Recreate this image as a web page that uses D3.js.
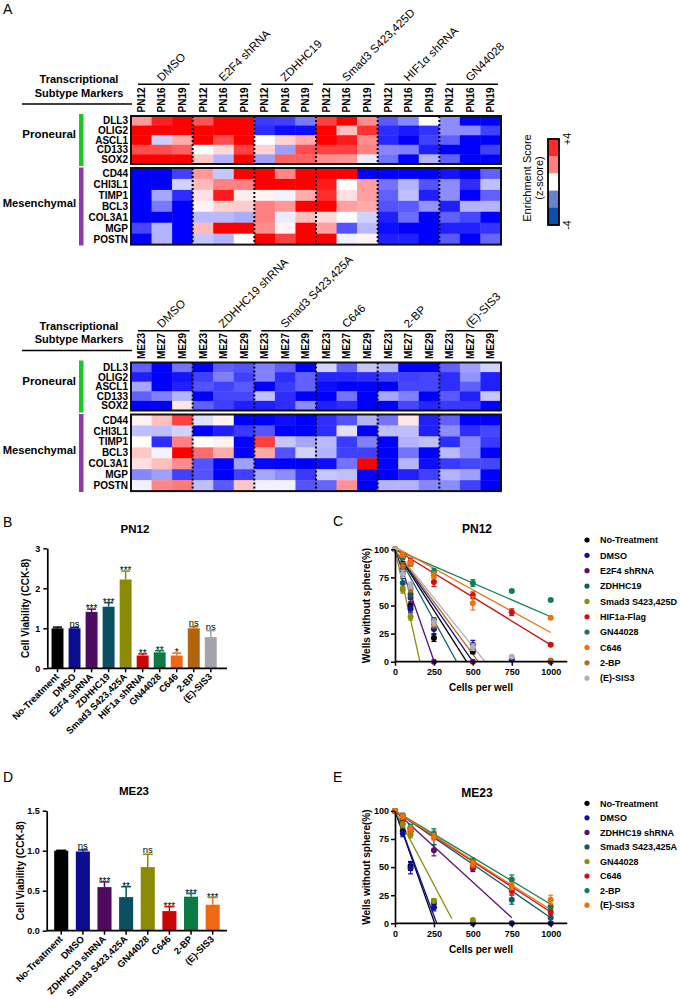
<!DOCTYPE html>
<html><head><meta charset="utf-8">
<script src="https://cdn.jsdelivr.net/npm/d3@7"></script>
<style>
body{margin:0;background:#fff}
svg{display:block}
text{font-family:"Liberation Sans",Arial,Helvetica,sans-serif;fill:#000}
</style>
</head><body>
<svg id="fig" width="680" height="999"></svg>
<script>
// ---------------- DATA ----------------
const proneuralMarkers = ["DLL3","OLIG2","ASCL1","CD133","SOX2"];
const mesenchymalMarkers = ["CD44","CHI3L1","TIMP1","BCL3","COL3A1","MGP","POSTN"];
const groupsTop = ["DMSO","E2F4 shRNA","ZDHHC19","Smad3 S423,425D","HIF1α shRNA","GN44028"];
const samplesTop = ["PN12","PN16","PN19"];
const groupsBottom = ["DMSO","ZDHHC19 shRNA","Smad3 S423,425A","C646","2-BP","(E)-SIS3"];
const samplesBottom = ["ME23","ME27","ME29"];

// z-scores (rows = markers, 18 columns = 6 groups x 3 samples)
const zTopPro = [
 [1.6,3.5,4, 2.7,4,4, -3.1,-3,-2.1, 3,4,1.8, -2.6,-1.9,0, -1.8,-4,-4],
 [4,4,4, 4,4,4, -3.3,-3.8,-3.8, 4,1,3.2, -3.3,-3.6,-3.2, -1.8,-1.8,-3],
 [4,-0.8,1.3, 4,2.8,4, 0,0.7,1.3, 4,3.6,1.8, -3.4,-4,-3, -2.5,-4,-4],
 [2.8,2.8,2.5, 0,0.6,3, 0.7,-1.5,2.8, 3,3,2, -1.9,-2,-3.5, -4,-4,-3],
 [4,4,4, 0.9,-1.2,4, -1.5,2.5,2.5, 1.8,1.7,-0.3, -2.2,-4,-1.2, -2.5,-4,-4]
];
const zTopMes = [
 [-4,-4,-3, 1.6,-0.9,4, 4,1.9,4, 4,4,-4, -4,-4,-4, -3.7,-4,-2.5],
 [-4,-4,-0.7, 1.1,2,2, 4,4,4, 3.6,0,1.5, -2.2,-1.2,-2.7, -1.8,-3.3,-1],
 [-4,-1.4,-3.3, 0.5,3.6,0.3, 0.2,-0.2,1.3, 3.3,0.5,1.5, -2.5,-1,-3.5, -1.8,-4,-2.5],
 [-4,-2.1,-4, 0.2,0.7,0.8, 2,1.6,4, 4,1.5,1.3, -2.7,-2.6,-1.7, -3.5,-1.2,-1.2],
 [-4,-4,-4, -1.1,-1.1,-1.3, 2,-0.3,1, 0.6,0,-0.7, -3.5,-2.3,-4, -2.5,-2.9,-4],
 [-2.9,-1.2,-4, 1.1,4,4, 1.8,0.2,4, 1.5,-2.7,-1.1, -3.8,-4,-4, -3.5,-3.5,-3.2],
 [-4,-1.2,-4, -0.9,-1.2,0, 4,3,4, 4,-0.2,0.2, -3.5,-3.5,-4, -2.6,-4,-2.4]
];
const zBotPro = [
 [-2.5,-4,-2.2, -4,-2.5,-2.7, -2,-2.5,-4, -0.7,-2.5,-0.9, -1.2,-4,-4, -2.5,-1.5,-0.7],
 [-3.5,-4,-3.7, -3,-2,-3, -2,-3.3,-2.5, -3.4,-3.4,-3.3, -3,-3,-2.9, -3.3,-1.7,-3.5],
 [-1.4,-4,-3.5, -2.7,-3,-2.6, -4,-3.1,-2.5, -3.8,-4,-4, -4,-2.9,-2.9, -3.3,-2.5,-3.5],
 [-2.5,-2,-1.2, -4,-2.9,-2.9, -1,-3.3,-4, -4,-2.2,-4, -1.4,-2,-4, -2.6,-3.5,-0.9],
 [-4,-4,0.4, -2.5,-3,-3.5, -3.5,-3.3,-1.8, -3.5,-3.3,-4, -4,-2.9,-3.4, -3.1,-3.1,-4]
];
const zBotMes = [
 [0.2,1,3, -0.5,0.2,-4, -4,-3.8,-4, -3.3,-2.7,-1.2, -2.2,0.4,-3.5, -2.5,-4,-4],
 [-1,-1,-0.7, -4,-3.5,-3.1, -2.7,-4,-4, -3.3,-0.5,-4, -1,-1,-3.5, -1.8,-3.3,-2.9],
 [0,-3.3,2, 0,0.2,-4, 3,-0.9,-1.4, -1.1,-3.1,-2, -4,-1.2,-1, -3.3,-1.9,-3.1],
 [0.9,-0.2,4, 2.3,1.3,-4, 1.4,-2.7,-0.7, -1.2,-3,-3, -4,-2.2,-4, -1.1,-1.9,-4],
 [0.5,1,1.8, -2.7,-4,-1.5, -3.9,-4,-4, -3.8,-2.2,4, -4,-1.2,-3.8, -3.1,-2.9,-2.9],
 [-1.9,-1.5,-3, -2.7,-4,-3, -1.4,-1.8,-3.1, -0.9,-1,-4, -4,-3.5,-3, -1.2,-1.5,-4],
 [-0.2,1.9,2.1, -1,-2.6,0.9, -0.2,-0.2,-2.7, -2.4,1.7,-4, -1.2,-1.2,-1.9, -1.8,-3,-4]
];
const legendBandColors = ["#ff2a2a","#ff8080","#ffffff","#6a80c8","#0a50b0"];
const legendTickLabels = ["+4","-4"];

// Panel B
const catsB = ["No-Treatment","DMSO","E2F4 shRNA","ZDHHC19","Smad3 S423,425A","HIF1a shRNA","GN44028","C646","2-BP","(E)-SIS3"];
const valsB = [1.0,1.0,1.41,1.54,2.22,0.32,0.40,0.32,1.0,0.78];
const errsB = [0.03,0.02,0.07,0.1,0.21,0.04,0.04,0.06,0.04,0.16];
const sigB = ["","ns","***","***","***","**","**","*","ns","ns"];
const colorsB = ["#000000","#0c0c8e","#4e0a5e","#0a4f62","#8a8a05","#cc0606","#0d7a45","#ee6a12","#b0640e","#a3a3aa"];
const yTicksB = [0,1,2,3];

// Panel D
const catsD = ["No-Treatment","DMSO","ZDHHC19 shRNA","Smad3 S423,425A","GN44028","C646","2-BP","(E)-SIS3"];
const valsD = [1.0,0.99,0.545,0.42,0.795,0.245,0.425,0.325];
const errsD = [0.005,0.02,0.065,0.13,0.16,0.055,0.04,0.09];
const sigD = ["","ns","***","**","ns","***","***","***"];
const colorsD = ["#000000","#0c0c8e","#4e0a5e","#0a4f62","#8a8a05","#cc0606","#0d7a45","#ee6a12"];
const yTicksD = [0,0.5,1.0,1.5];

// Panels C & E (limiting dilution)
const cellsPerWell = [0,50,100,250,500,750,1000];
const xTicksLD = [0,250,500,750,1000];
const yTicksLD = [0,25,50,75,100];

const seriesC = ["No-Treatment","DMSO","E2F4 shRNA","ZDHHC19","Smad3 S423,425D","HIF1a-Flag","GN44028","C646","2-BP","(E)-SIS3"];
const colorsC = ["#000000","#10109a","#5a1070","#0d5c6b","#8c8c10","#d01010","#108050","#f07010","#b86a1a","#b0b0b8"];
const valuesC = [
 [100,86,50,21,9,null,null],
 [100,83,47,29,15,2,0],
 [100,80,57,0,0,null,null],
 [100,70,60,37,null,null,null],
 [100,64,40,null,null,null,null],
 [100,95,89,71,59,44,15],
 [100,93,87,80,70,63,55],
 [100,95,88,77,52,null,39],
 [100,85,65,33,12,null,1],
 [100,78,68,35,13,4.5,null]
];
const errorsC = [
 [0,3,3,3,2,0,0],
 [0,3,3,4,4,1,0],
 [0,4,4,0,0,0,0],
 [0,4,3,2,0,0,0],
 [0,3,3,0,0,0,0],
 [0,2,3,4,3,3,1],
 [0,2,2,3,3,1,1],
 [0,2,3,3,6,0,1],
 [0,3,3,3,2,0,0],
 [0,3,3,3,3,1,0]
];
const fitStartC = [100,100,100,100,100,100,100,102,100,100];
const fitEndXC = [460,500,252,396,160,1000,1000,1000,535,578];
const fitEndYC = [0,0,0,0,0,15,40,26,0,0];

const seriesE = ["No-Treatment","DMSO","ZDHHC19 shRNA","Smad3 S423,425A","GN44028","C646","2-BP","(E)-SIS3"];
const colorsE = ["#000000","#10109a","#5a1070","#0d5c6b","#8c8c10","#d01010","#108050","#f07010"];
const valuesE = [
 [100,82,51,18,null,null,null],
 [100,80,49,14,0,0,0],
 [100,92,82,65,49,null,null],
 [100,95,85,77,52,21,5],
 [100,88,79,20,3,null,null],
 [100,94,84,78,51,29,10],
 [100,95,85,79,55,39,15],
 [100,95,84,77,53,33,21]
];
const errorsE = [
 [0,3,4,3,0,0,0],
 [0,3,5,3,0,0,0],
 [0,3,3,5,3,0,0],
 [0,3,3,7,4,4,1],
 [0,3,3,2,1,0,0],
 [0,2,3,3,3,3,2],
 [0,2,3,3,3,4,2],
 [0,2,3,3,3,3,4]
];
const fitStartE = [100,100,100,100,100,100,100,100];
const fitEndXE = [255,268,750,1000,365,1000,1000,1000];
const fitEndYE = [0,0,5,5,4,10,17,12];

// ---------------- DRAW ----------------
const svg = d3.select("#fig");
const FONT = '"Liberation Sans",Arial,sans-serif';
const zColor = d3.scaleLinear().domain([-4,0,4]).range(["#0000ff","#ffffff","#ff0000"]).clamp(true);

function rtext(parent, x, y, angle, str){
  return parent.append("text").attr("x",0).attr("y",0)
    .attr("transform",`translate(${x},${y}) rotate(${angle})`).text(str);
}

function panelLetter(t, x, y){
  svg.append("text").attr("x",x).attr("y",y).attr("font-size",14).text(t);
}
panelLetter("A",3,14);
panelLetter("B",3,527);
panelLetter("C",333,526);
panelLetter("D",3,782);
panelLetter("E",333,782);

function heatmap(dy, groups, samples, zPro, zMes){
  const g = svg.append("g");
  const nCols = groups.length*samples.length;
  const x = d3.scaleBand().domain(d3.range(nCols)).range([131,501]);
  const gx = d3.scaleBand().domain(groups).range([131,501]);
  const yP = d3.scaleBand().domain(proneuralMarkers).range([116+dy,164+dy]);
  const yM = d3.scaleBand().domain(mesenchymalMarkers).range([168+dy,244.6+dy]);

  g.append("text").attr("x",79).attr("y",83+dy).attr("text-anchor","middle").attr("font-weight","bold").attr("font-size",11).text("Transcriptional");
  g.append("text").attr("x",79).attr("y",96.7+dy).attr("text-anchor","middle").attr("font-weight","bold").attr("font-size",11).text("Subtype Markers");
  g.append("line").attr("x1",22).attr("x2",132).attr("y1",104+dy).attr("y2",104+dy).attr("stroke","#000").attr("stroke-width",1.6);

  groups.forEach(gr=>{
    const x0 = gx(gr), w = gx.bandwidth();
    g.append("line").attr("x1",x0+7).attr("x2",x0+w-3).attr("y1",84.3+dy).attr("y2",84.3+dy).attr("stroke","#000").attr("stroke-width",1.6);
    rtext(g, x0+w/2, 82+dy, -45, gr).attr("font-size",11.5);
    samples.forEach((s,i)=>{
      const cx = x0 + w*(i+0.5)/samples.length;
      rtext(g, cx+3.6, 112.5+dy, -90, s).attr("text-anchor","start").attr("font-weight","bold").attr("font-size",10);
    });
  });

  [[zPro,yP,proneuralMarkers],[zMes,yM,mesenchymalMarkers]].forEach(([z,y,rows])=>{
    rows.forEach((r,i)=>{
      g.selectAll(null).data(z[i]).join("rect")
        .attr("x",(d,j)=>x(j)).attr("y",y(r))
        .attr("width",x.bandwidth()+0.4).attr("height",y.bandwidth()+0.4)
        .attr("fill",d=>zColor(d));
      g.append("text").attr("x",128).attr("y",y(r)+y.bandwidth()/2+3.6)
        .attr("text-anchor","end").attr("font-weight","bold").attr("font-size",10).text(r);
    });
    const [ya,yb] = y.range();
    for(let k=1;k<groups.length;k++){
      const xx = x(k*samples.length);
      g.append("line").attr("x1",xx).attr("x2",xx).attr("y1",ya).attr("y2",yb)
        .attr("stroke","#000").attr("stroke-width",2).attr("stroke-dasharray","2,2");
    }
    g.append("rect").attr("x",131).attr("y",ya).attr("width",370).attr("height",yb-ya)
      .attr("fill","none").attr("stroke","#111").attr("stroke-width",2);
  });
  g.append("rect").attr("x",79).attr("y",114+dy).attr("width",4.5).attr("height",52).attr("fill","#1fc62a");
  g.append("rect").attr("x",79).attr("y",167.5+dy).attr("width",4.5).attr("height",78).attr("fill","#8c3ca4");
  g.append("text").attr("x",76).attr("y",138+dy).attr("text-anchor","end").attr("font-weight","bold").attr("font-size",11.5).text("Proneural");
  g.append("text").attr("x",76).attr("y",207+dy).attr("text-anchor","end").attr("font-weight","bold").attr("font-size",11.2).text("Mesenchymal");
}
heatmap(0, groupsTop, samplesTop, zTopPro, zTopMes);
heatmap(246.5, groupsBottom, samplesBottom, zBotPro, zBotMes);

// colour legend
(function(){
  const g = svg.append("g");
  const ly = d3.scaleBand().domain(d3.range(legendBandColors.length)).range([139,225]);
  g.selectAll(null).data(legendBandColors).join("rect")
    .attr("x",548).attr("y",(d,i)=>ly(i)).attr("width",11).attr("height",ly.bandwidth()+0.3).attr("fill",d=>d);
  g.append("rect").attr("x",548).attr("y",139).attr("width",11).attr("height",86).attr("fill","none").attr("stroke","#000").attr("stroke-width",1.8);
  rtext(g,531,178,-90,"Enrichment Score").attr("text-anchor","middle").attr("font-size",11);
  rtext(g,543,178,-90,"(z-score)").attr("text-anchor","middle").attr("font-size",11);
  rtext(g,571,139,-90,legendTickLabels[0]).attr("text-anchor","middle").attr("font-size",10.5);
  rtext(g,571,225,-90,legendTickLabels[1]).attr("text-anchor","middle").attr("font-size",10.5);
})();

function styleAxis(sel){
  sel.selectAll("path.domain").attr("stroke","#000").attr("stroke-width",1.7);
  sel.selectAll(".tick line").attr("stroke","#000").attr("stroke-width",1.5);
  sel.selectAll(".tick text").attr("font-family",FONT).attr("font-weight","bold").attr("font-size",9).attr("fill","#000");
}

function barChart(o){
  const g = svg.append("g");
  const x = d3.scaleBand().domain(o.cats).range(o.xr).paddingInner(o.pad).paddingOuter(o.pad/2);
  const y = d3.scaleLinear().domain([0,o.yMax]).range(o.yr);
  g.selectAll(null).data(o.vals).join("rect")
    .attr("x",(d,i)=>x(o.cats[i])).attr("width",x.bandwidth())
    .attr("y",d=>y(d)).attr("height",d=>y(0)-y(d)).attr("fill",(d,i)=>o.colors[i]);
  o.vals.forEach((v,i)=>{
    const cx = x(o.cats[i])+x.bandwidth()/2, top = y(v+o.errs[i]);
    g.append("line").attr("x1",cx).attr("x2",cx).attr("y1",y(v)).attr("y2",top).attr("stroke",o.colors[i]).attr("stroke-width",1.5);
    g.append("line").attr("x1",cx-o.cap).attr("x2",cx+o.cap).attr("y1",top).attr("y2",top).attr("stroke",o.colors[i]).attr("stroke-width",1.5);
    if(o.sig[i]) g.append("text").attr("x",cx).attr("y",top+(o.sig[i][0]==="*"?3:-1)).attr("text-anchor","middle")
      .attr("font-size",o.sig[i][0]==="*"?10:9.5).attr("fill","#333").text(o.sig[i]);
  });
  const ya = g.append("g").attr("transform",`translate(${o.axisX},0)`)
    .call(d3.axisLeft(y).tickValues(o.yTicks).tickSize(4).tickSizeOuter(0).tickPadding(3).tickFormat(o.fmt));
  styleAxis(ya);
  g.append("line").attr("x1",o.axisX).attr("x2",o.axisEnd).attr("y1",y(0)).attr("y2",y(0)).attr("stroke","#000").attr("stroke-width",1.8);
  o.cats.forEach(c=>{
    const cx = x(c)+x.bandwidth()/2;
    g.append("line").attr("x1",cx).attr("x2",cx).attr("y1",y(0)).attr("y2",y(0)+4).attr("stroke","#000").attr("stroke-width",1.5);
    rtext(g, cx+2, y(0)+9, -45, c).attr("text-anchor","end").attr("font-weight","bold").attr("font-size",9.5);
  });
  g.append("text").attr("x",o.titleX).attr("y",o.titleY).attr("text-anchor","middle").attr("font-weight","bold").attr("font-size",11.5).text(o.title);
  rtext(g, o.ylabX, (o.yr[0]+o.yr[1])/2, -90, "Cell Viability (CCK-8)").attr("text-anchor","middle").attr("font-weight","bold").attr("font-size",10);
}

barChart({cats:catsB, vals:valsB, errs:errsB, sig:sigB, colors:colorsB, xr:[49,219.3], pad:0.3,
  yMax:3, yr:[668.3,548.3], yTicks:yTicksB, fmt:d3.format("d"), axisX:47.3, axisEnd:227, cap:4.5,
  title:"PN12", titleX:135, titleY:533, ylabX:29});
barChart({cats:catsD, vals:valsD, errs:errsD, sig:sigD, colors:colorsD, xr:[50.4,223.5], pad:0.35,
  yMax:1.5, yr:[930.7,810.7], yTicks:yTicksD, fmt:d3.format(".1f"), axisX:46.7, axisEnd:227, cap:5,
  title:"ME23", titleX:134, titleY:795, ylabX:24});

function ldChart(o){
  const g = svg.append("g");
  const x = d3.scaleLinear().domain([0,1000]).range([395,550.7]);
  const y = d3.scaleLinear().domain([0,100]).range([o.y0,o.y0-112.4]);
  o.series.forEach((s,i)=>{
    g.append("line").attr("x1",x(0)).attr("y1",y(o.fitStart[i])).attr("x2",x(o.fitEndX[i])).attr("y2",y(o.fitEndY[i]))
      .attr("stroke",o.colors[i]).attr("stroke-width",1.3);
  });
  o.series.forEach((s,i)=>{
    o.values[i].forEach((v,j)=>{
      if(v===null) return;
      const cx = x(cellsPerWell[j]), e = o.errors[i][j];
      if(e>0){
        g.append("line").attr("x1",cx).attr("x2",cx).attr("y1",y(v-e)).attr("y2",y(v+e)).attr("stroke",o.colors[i]).attr("stroke-width",1.2);
        [v-e,v+e].forEach(t=>g.append("line").attr("x1",cx-2.5).attr("x2",cx+2.5).attr("y1",y(t)).attr("y2",y(t)).attr("stroke",o.colors[i]).attr("stroke-width",1.2));
      }
      g.append("circle").attr("cx",cx).attr("cy",y(v)).attr("r",3).attr("fill",o.colors[i]);
    });
  });
  const ya = g.append("g").attr("transform","translate(395,0)")
    .call(d3.axisLeft(y).tickValues(yTicksLD).tickSize(4).tickSizeOuter(0).tickPadding(2).tickFormat(d3.format("d")));
  styleAxis(ya);
  const xa = g.append("g").attr("transform",`translate(0,${y(0)})`)
    .call(d3.axisBottom(x).tickValues(xTicksLD).tickSize(4).tickSizeOuter(0).tickPadding(3).tickFormat(d3.format("d")));
  styleAxis(xa);
  xa.select("path.domain").remove();
  g.append("line").attr("x1",395).attr("x2",567.3).attr("y1",y(0)).attr("y2",y(0)).attr("stroke","#000").attr("stroke-width",1.8);
  g.append("text").attr("x",481).attr("y",y(0)+29.5).attr("text-anchor","middle").attr("font-weight","bold").attr("font-size",10).text("Cells per well");
  rtext(g, 370, y(50), -90, "Wells without sphere(%)").attr("text-anchor","middle").attr("font-weight","bold").attr("font-size",10);
  g.append("text").attr("x",477).attr("y",o.titleY).attr("text-anchor","middle").attr("font-weight","bold").attr("font-size",12).text(o.title);
  o.series.forEach((s,i)=>{
    const ly = o.legY + i*o.legStep;
    g.append("circle").attr("cx",587).attr("cy",ly).attr("r",2.6).attr("fill",o.colors[i]);
    g.append("text").attr("x",600).attr("y",ly+3.3).attr("font-weight","bold").attr("font-size",9).text(s);
  });
}
ldChart({series:seriesC, colors:colorsC, values:valuesC, errors:errorsC, fitStart:fitStartC, fitEndX:fitEndXC, fitEndY:fitEndYC,
  y0:661.7, title:"PN12", titleY:533.3, legY:540, legStep:15.35});
ldChart({series:seriesE, colors:colorsE, values:valuesE, errors:errorsE, fitStart:fitStartE, fitEndX:fitEndXE, fitEndY:fitEndYE,
  y0:923.3, title:"ME23", titleY:796.5, legY:803.3, legStep:14.55});
</script>
</body></html>
